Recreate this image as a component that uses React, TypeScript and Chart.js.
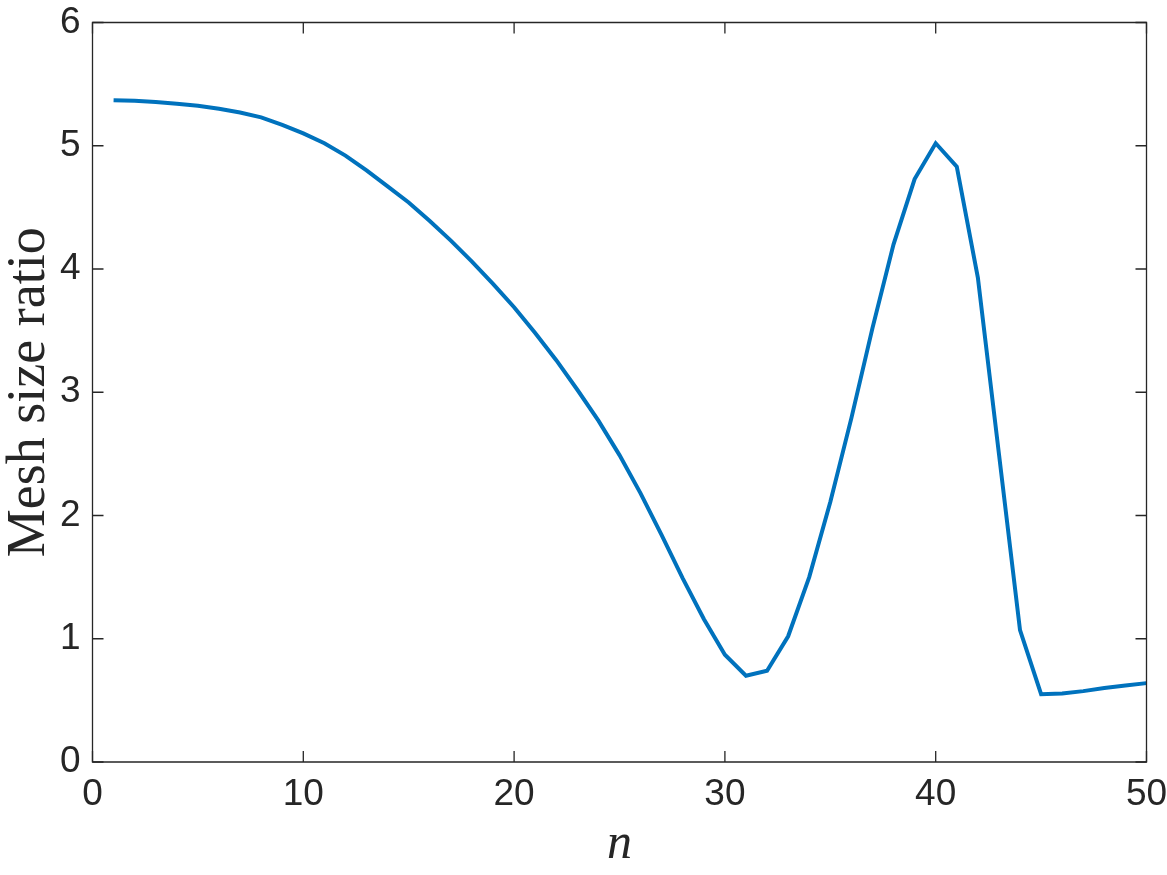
import React, { useEffect, useRef } from "react";
import { Chart, registerables } from "chart.js";

Chart.register(...registerables);

const nValues = [
  1, 2, 3, 4, 5, 6, 7, 8, 9, 10,
  11, 12, 13, 14, 15, 16, 17, 18, 19, 20,
  21, 22, 23, 24, 25, 26, 27, 28, 29, 30,
  31, 32, 33, 34, 35, 36, 37, 38, 39, 40,
  41, 42, 43, 44, 45, 46, 47, 48, 49, 50,
];

const meshRatio = [
  5.37, 5.365, 5.355, 5.34, 5.325, 5.3, 5.27, 5.23, 5.17, 5.1,
  5.02, 4.92, 4.8, 4.67, 4.54, 4.39, 4.23, 4.06, 3.88, 3.69,
  3.48, 3.26, 3.02, 2.77, 2.49, 2.18, 1.84, 1.49, 1.16, 0.87,
  0.7, 0.74, 1.02, 1.5, 2.11, 2.79, 3.52, 4.2, 4.73, 5.02,
  4.83, 3.93, 2.5, 1.07, 0.55, 0.555, 0.575, 0.6, 0.62, 0.64,
];

const xTickValues = [0, 10, 20, 30, 40, 50];
const yTickValues = [0, 1, 2, 3, 4, 5, 6];

const AXIS_COLOR = "#262626";
const LINE_COLOR = "#0072BD";

const boxPlugin = {
  id: "matlabBox",
  afterDraw(chart: any) {
    const { ctx, chartArea } = chart;
    const xs = chart.scales.x;
    const ys = chart.scales.y;
    const tl = 11;
    ctx.save();
    ctx.strokeStyle = AXIS_COLOR;
    ctx.lineWidth = 1.3;
    ctx.beginPath();
    ctx.rect(chartArea.left, chartArea.top, chartArea.right - chartArea.left, chartArea.bottom - chartArea.top);
    ctx.stroke();
    ctx.beginPath();
    for (const v of yTickValues) {
      const py = ys.getPixelForValue(v);
      ctx.moveTo(chartArea.left, py);
      ctx.lineTo(chartArea.left + tl, py);
      ctx.moveTo(chartArea.right, py);
      ctx.lineTo(chartArea.right - tl, py);
    }
    for (const v of xTickValues) {
      const px = xs.getPixelForValue(v);
      ctx.moveTo(px, chartArea.bottom);
      ctx.lineTo(px, chartArea.bottom - tl);
      ctx.moveTo(px, chartArea.top);
      ctx.lineTo(px, chartArea.top + tl);
    }
    ctx.stroke();
    ctx.restore();
  },
};

export default function App() {
  const canvasRef = useRef<HTMLCanvasElement | null>(null);

  useEffect(() => {
    if (!canvasRef.current) return;
    const points = nValues.map((n, i) => ({ x: n, y: meshRatio[i] }));
    const tickFont = { family: "'Liberation Sans', Arial, Helvetica, sans-serif", size: 37 };
    const chart = new Chart(canvasRef.current, {
      type: "line",
      data: {
        datasets: [
          {
            data: points,
            borderColor: LINE_COLOR,
            backgroundColor: LINE_COLOR,
            borderWidth: 4,
            pointRadius: 0,
            tension: 0,
            fill: false,
          },
        ],
      },
      options: {
        animation: false,
        responsive: false,
        layout: { padding: { top: 22.5, right: 20.5, left: 0, bottom: 0 } },
        plugins: {
          legend: { display: false },
          tooltip: { enabled: false },
        },
        scales: {
          x: {
            type: "linear",
            min: 0,
            max: 50,
            afterBuildTicks: (scale: any) => {
              scale.ticks = xTickValues.map((v) => ({ value: v }));
            },
            afterFit: (scale: any) => {
              scale.height = 113;
              scale.paddingLeft = 0;
              scale.paddingRight = 0;
              scale.paddingTop = 0;
              scale.paddingBottom = 0;
            },
            grid: { display: false, drawTicks: false },
            border: { display: false },
            ticks: { font: tickFont, color: AXIS_COLOR, padding: 11, maxRotation: 0 },
            title: {
              display: true,
              text: "n",
              color: AXIS_COLOR,
              font: { family: "'Liberation Serif', 'Times New Roman', serif", size: 50, style: "italic" },
              padding: { top: 0, bottom: 0 },
            },
          },
          y: {
            type: "linear",
            min: 0,
            max: 6,
            afterBuildTicks: (scale: any) => {
              scale.ticks = yTickValues.map((v) => ({ value: v }));
            },
            afterFit: (scale: any) => {
              scale.width = 92.5;
              scale.paddingLeft = 0;
              scale.paddingRight = 0;
              scale.paddingTop = 0;
              scale.paddingBottom = 0;
            },
            grid: { display: false, drawTicks: false },
            border: { display: false },
            ticks: { font: tickFont, color: AXIS_COLOR, padding: 12 },
            title: {
              display: true,
              text: "Mesh size ratio",
              color: AXIS_COLOR,
              font: { family: "'Liberation Serif', 'Times New Roman', serif", size: 54, lineHeight: 1.1 },
              padding: { top: 0, bottom: 0 },
            },
          },
        },
      },
      plugins: [boxPlugin],
    });
    return () => chart.destroy();
  }, []);

  return (
    <div style={{ position: "fixed", left: 0, top: 0, width: 1167, height: 875, background: "#ffffff" }}>
      <canvas ref={canvasRef} width={1167} height={875} style={{ width: 1167, height: 875, display: "block" }} />
    </div>
  );
}
